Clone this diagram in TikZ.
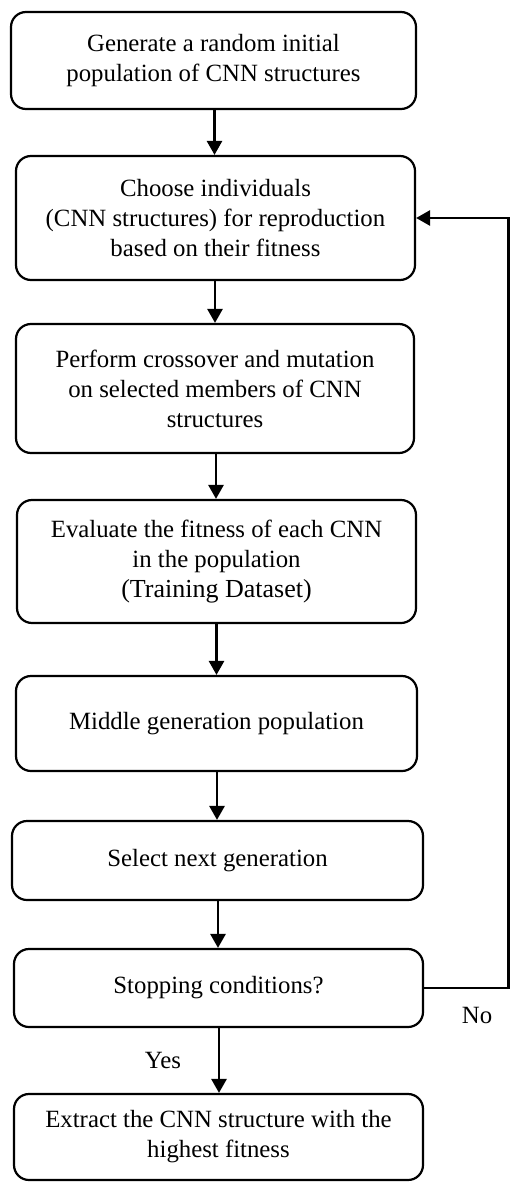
\documentclass[tikz,border=0pt]{standalone}
\usepackage{fontspec}
\setmainfont{Liberation Serif}
\usetikzlibrary{arrows.meta,calc}
\begin{document}
\begin{tikzpicture}[x=1pt,y=-1pt,
  box/.style={draw=black, line width=2.2pt, rounded corners=15pt, align=center,
    font=\fontsize{24.8}{30}\selectfont, inner sep=0pt},
  conn/.style={line width=2.8pt, -{Triangle[length=14pt,width=15pt]}},
  lbl/.style={font=\fontsize{24.8}{30}\selectfont}]
\useasboundingbox (0,0) rectangle (510,1182);
\node[box, minimum width=405pt, minimum height=97pt] (b1) at (213.5,60.5)
  {Generate a random initial\\population of CNN structures};
\node[box, minimum width=399pt, minimum height=124pt] (b2) at (215.5,218)
  {Choose individuals\\(CNN structures) for reproduction\\based on their fitness};
\node[box, minimum width=398pt, minimum height=129pt] (b3) at (215,388.5)
  {Perform crossover and mutation\\on selected members of CNN\\structures};
\node[box, minimum width=399pt, minimum height=123pt] (b4) at (216.5,561.5)
  {Evaluate the fitness of each CNN\\in the population\\{\fontsize{26}{30}\selectfont (Training Dataset)}};
\node[box, minimum width=401pt, minimum height=95pt] (b5) at (216.5,723.5)
  {Middle generation population};
\node[box, minimum width=411pt, minimum height=79pt] (b6) at (217.5,860.5)
  {Select next generation};
\node[box, minimum width=409pt, minimum height=78pt] (b7) at (218.5,988)
  {Stopping conditions?};
\node[box, minimum width=409pt, minimum height=86pt] (b8) at (218.5,1137)
  {Extract the CNN structure with the\\highest fitness};
\coordinate (c1) at (214.5,0);
\draw[conn] (b1.south -| c1) -- (b2.north -| c1);
\coordinate (c2) at (215,0);
\draw[conn] (b2.south -| c2) -- (b3.north -| c2);
\coordinate (c3) at (216,0);
\draw[conn] (b3.south -| c3) -- (b4.north -| c3);
\coordinate (c4) at (216.5,0);
\draw[conn] (b4.south -| c4) -- (b5.north -| c4);
\coordinate (c5) at (217,0);
\draw[conn] (b5.south -| c5) -- (b6.north -| c5);
\coordinate (c6) at (218,0);
\draw[conn] (b6.south -| c6) -- (b7.north -| c6);
\coordinate (c7) at (219,0);
\draw[conn] (b7.south -| c7) -- (b8.north -| c7);
\coordinate (r) at (508.5,0);
\draw[conn, line join=miter] (b7.east) -- (b7.east -| r) -- (b2.east -| r) -- (b2.east);
\node[lbl] (no) at (477,1015) {No};
\node[lbl] (yes) at (163,1060) {Yes};
\end{tikzpicture}
\end{document}
